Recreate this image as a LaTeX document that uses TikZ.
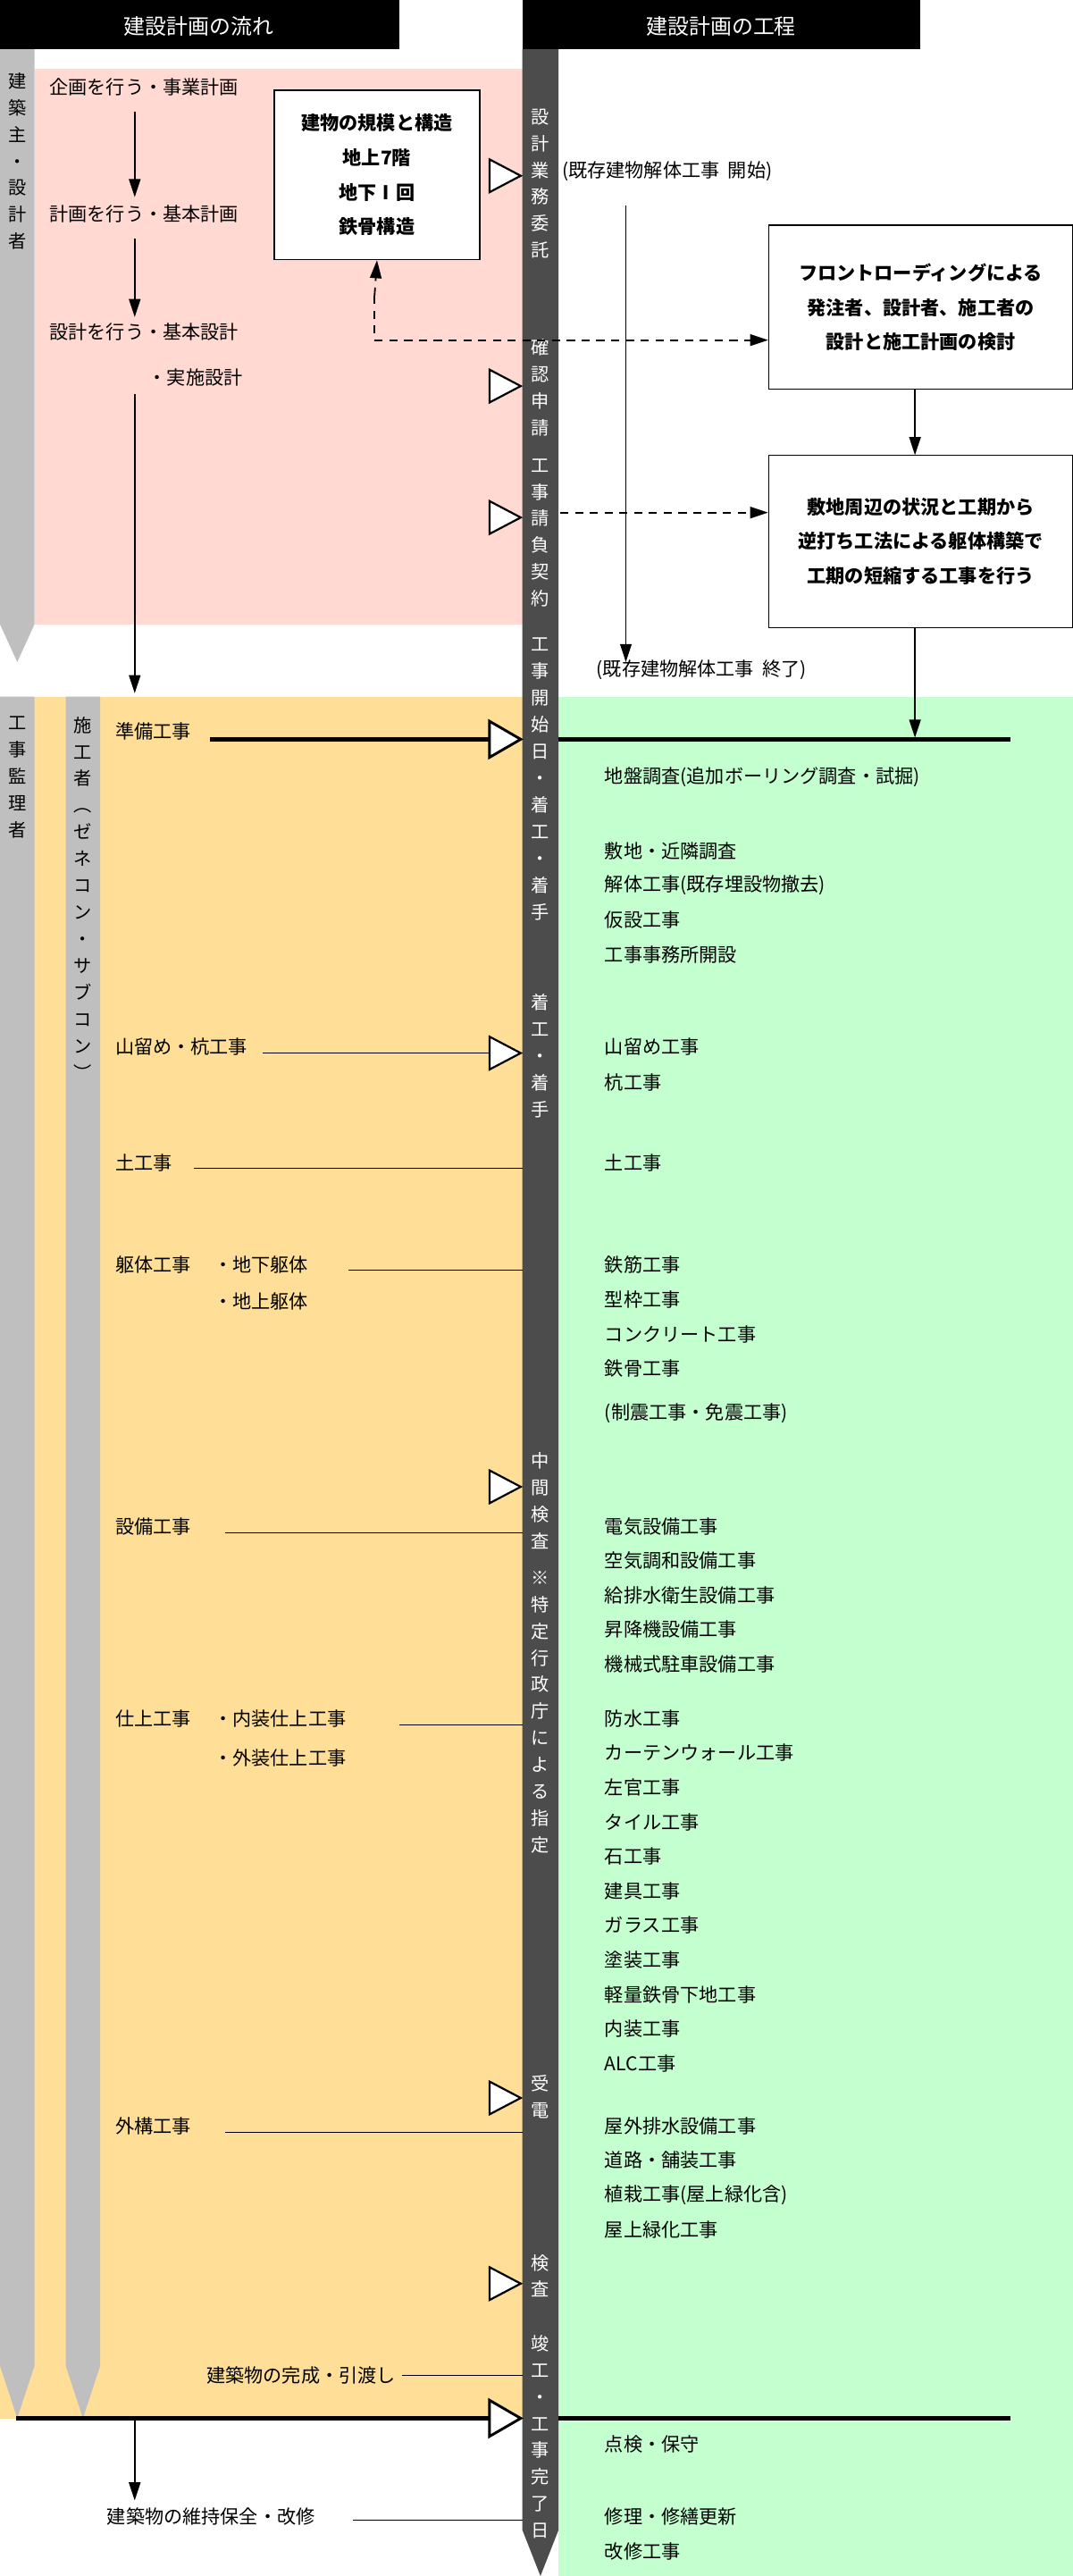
\documentclass[tikz,border=0pt]{standalone}
\usepackage{fontspec}
\setmainfont{Noto Sans CJK JP}
\usetikzlibrary{arrows.meta}
\definecolor{pinkbg}{HTML}{FFD9D2}
\definecolor{orbg}{HTML}{FFDF98}
\definecolor{grbg}{HTML}{C4FFD0}
\begin{document}
\begin{tikzpicture}[x=1pt,y=-1pt,
  txt/.style={anchor=west,inner sep=0pt,font=\fontsize{11.5}{13}\selectfont},
  vtxt/.style={anchor=north,inner sep=0pt,align=center,font=\fontsize{11}{16.3}\selectfont},
  ar/.style={-{Triangle[length=11pt,width=7pt]},line width=1pt},
  dar/.style={-{Triangle[length=11pt,width=7pt]},line width=1pt,dash pattern=on 5pt off 4pt},
  ln/.style={line width=0.8pt},
  thick/.style={line width=2.6pt},
  box/.style={draw,line width=0.7pt,fill=white,align=center,font=\fontsize{11.5}{21}\selectfont\bfseries},
  tri/.style={draw,line width=1.2pt,fill=white}]
\useasboundingbox (0,0) rectangle (653,1568);
% backgrounds
\fill[pinkbg] (21,42) rectangle (318,380);
\fill[orbg] (0,424) rectangle (318,1472);
\fill[grbg] (340,424) rectangle (653,1568);
% headers
\fill[black] (0,0) rectangle (243,30);
\fill[black] (318,0) rectangle (560,30);
\node[text=white,font=\fontsize{13}{15}\selectfont] (h1) at (121,16) {建設計画の流れ};
\node[text=white,font=\fontsize{13}{15}\selectfont] (h2) at (439,16) {建設計画の工程};
% gray bars
\fill[gray!50] (0,30) -- (21,30) -- (21,380) -- (10.5,403) -- (0,380) -- cycle;
\fill[gray!50] (0,424) -- (21,424) -- (21,1440) -- (10.5,1472) -- (0,1440) -- cycle;
\fill[gray!50] (40,424) -- (61,424) -- (61,1440) -- (50.5,1472) -- (40,1440) -- cycle;
\fill[black!70] (318,30) -- (340,30) -- (340,1540) -- (329,1568) -- (318,1540) -- cycle;
\node[vtxt] (v1) at (10.5,44) {建\\築\\主\\・\\設\\計\\者};
\node[vtxt] (v2) at (10.5,436) {工\\事\\監\\理\\者};
\node[vtxt] (v3) at (50.5,436) {施\\工\\者\\︵\\ゼ\\ネ\\コ\\ン\\・\\サ\\ブ\\コ\\ン\\︶};
% column texts
\begin{scope}[every node/.style={vtxt,text=white}]
\node (c1) at (329,66) {設\\計\\業\\務\\委\\託};
\node (c2) at (329,206) {確\\認\\申\\請};
\node (c3) at (329,279) {工\\事\\請\\負\\契\\約};
\node (c4) at (329,388) {工\\事\\開\\始\\日\\・\\着\\工\\・\\着\\手};
\node (c5) at (329,605) {着\\工\\・\\着\\手};
\node (c6) at (329,884) {中\\間\\検\\査};
\node (c7) at (329,956) {※\\特\\定\\行\\政\\庁\\に\\よ\\る\\指\\定};
\node (c8) at (329,1263) {受\\電};
\node (c9) at (329,1372) {検\\査};
\node (c10) at (329,1421) {竣\\工\\・\\工\\事\\完\\了\\日};
\end{scope}
% triangles
\foreach \y/\s in {107/10,235/10,315/10,641/10,905/10,1277/10,1390/10}{
  \draw[tri] (317,\y) -- (298,\y-\s) -- (298,\y+\s) -- cycle;}
% pink area
\node[txt] (a1) at (30,53) {企画を行う・事業計画};
\node[txt] (a2) at (30,130) {計画を行う・基本計画};
\node[txt] (a3) at (30,202) {設計を行う・基本設計};
\node[txt] (a4) at (90,230) {・実施設計};
\coordinate (a1b) at (82,68); \coordinate (a2t) at (82,120);
\coordinate (a2b) at (82,145); \coordinate (a3t) at (82,193);
\coordinate (a4b) at (82,240); \coordinate (jt) at (82,422);
\draw[ar] (a1b) -- (a2t);
\draw[ar] (a2b) -- (a3t);
\draw[ar] (a4b) -- (jt);
\node[box,minimum width=125pt,minimum height=103pt] (bx) at (229.5,106.5) {建物の規模と構造\\地上7階\\地下Ⅰ回\\鉄骨構造};
\node[box,minimum width=185pt,minimum height=100pt] (fb) at (560.5,187) {フロントローディングによる\\発注者、設計者、施工者の\\設計と施工計画の検討};
\node[box,minimum width=185pt,minimum height=105pt] (gb) at (560.5,329.5) {敷地周辺の状況と工期から\\逆打ち工法による躯体構築で\\工期の短縮する工事を行う};
\coordinate (dc) at (228,207);
\draw[dar] (228,180) -- (bx.south);
\draw[line width=1pt,dash pattern=on 5pt off 4pt] (228,180) -- (dc);
\draw[dar] (dc) -- (fb.west |- dc);
\draw[dar] (341,312) -- (gb.west |- 0,312);
\coordinate (f1) at (557,237); \coordinate (f2) at (557,277);
\coordinate (g0) at (557,382); \coordinate (g1) at (557,449);
\draw[ar] (f1) -- (f2);
\draw[ar] (g0) -- (g1);
\node[txt] (k1) at (342,104) {(既存建物解体工事\ \ 開始)};
\node[txt] (k2) at (363,408) {(既存建物解体工事\ \ 終了)};
\draw[ar] (381,125) -- (381,403);
% thick lines
\draw[thick] (128,450) -- (300,450);
\draw[thick] (340,450) -- (615,450);
\draw[tri,line width=1.6pt] (317,450) -- (298,439) -- (298,461) -- cycle;
\draw[thick] (10,1472) -- (300,1472);
\draw[thick] (340,1472) -- (615,1472);
\draw[tri,line width=1.6pt] (317,1472) -- (298,1461) -- (298,1483) -- cycle;
\draw[ar] (82,1472) -- (82,1522);
% left labels
\node[txt] (l1) at (70,445) {準備工事};
\node[txt] (l2) at (70,637) {山留め・杭工事};
\draw[ln] (160,641) -- (298,641);
\node[txt] (l3) at (70,708) {土工事};
\draw[ln] (118,711) -- (318,711);
\node[txt] (l4) at (70,770) {躯体工事};
\node[txt] (l4a) at (130,770) {・地下躯体};
\node[txt] (l4b) at (130,792) {・地上躯体};
\draw[ln] (212,773) -- (318,773);
\node[txt] (l5) at (70,929) {設備工事};
\draw[ln] (137,933) -- (318,933);
\node[txt] (l6) at (70,1046) {仕上工事};
\node[txt] (l6a) at (130,1046) {・内装仕上工事};
\node[txt] (l6b) at (130,1070) {・外装仕上工事};
\draw[ln] (243,1050) -- (318,1050);
\node[txt] (l7) at (70,1294) {外構工事};
\draw[ln] (137,1298) -- (318,1298);
\node[txt,anchor=east] (l8) at (241,1446) {建築物の完成・引渡し};
\draw[ln] (245,1446) -- (318,1446);
\node[txt] (l9) at (65,1532) {建築物の維持保全・改修};
\draw[ln] (215,1534) -- (318,1534);
% right items
\foreach \y/\t in {473/地盤調査(追加ボーリング調査・試掘),518/敷地・近隣調査,539/解体工事(既存埋設物撤去),560/仮設工事,581/工事事務所開設,637/山留め工事,659/杭工事,708/土工事,770/鉄筋工事,791/型枠工事,812/コンクリート工事,833/鉄骨工事,860/(制震工事・免震工事),929/電気設備工事,950/空気調和設備工事,971/給排水衛生設備工事,992/昇降機設備工事,1013/機械式駐車設備工事,1046/防水工事,1067/カーテンウォール工事,1088/左官工事,1109/タイル工事,1130/石工事,1151/建具工事,1172/ガラス工事,1193/塗装工事,1214/軽量鉄骨下地工事,1235/内装工事,1256/ALC工事,1294/屋外排水設備工事,1315/道路・舗装工事,1336/植栽工事(屋上緑化含),1357/屋上緑化工事,1488/点検・保守,1532/修理・修繕更新,1553/改修工事}
  {\node[txt] at (368,\y) {\t};}
\end{tikzpicture}
\end{document}
